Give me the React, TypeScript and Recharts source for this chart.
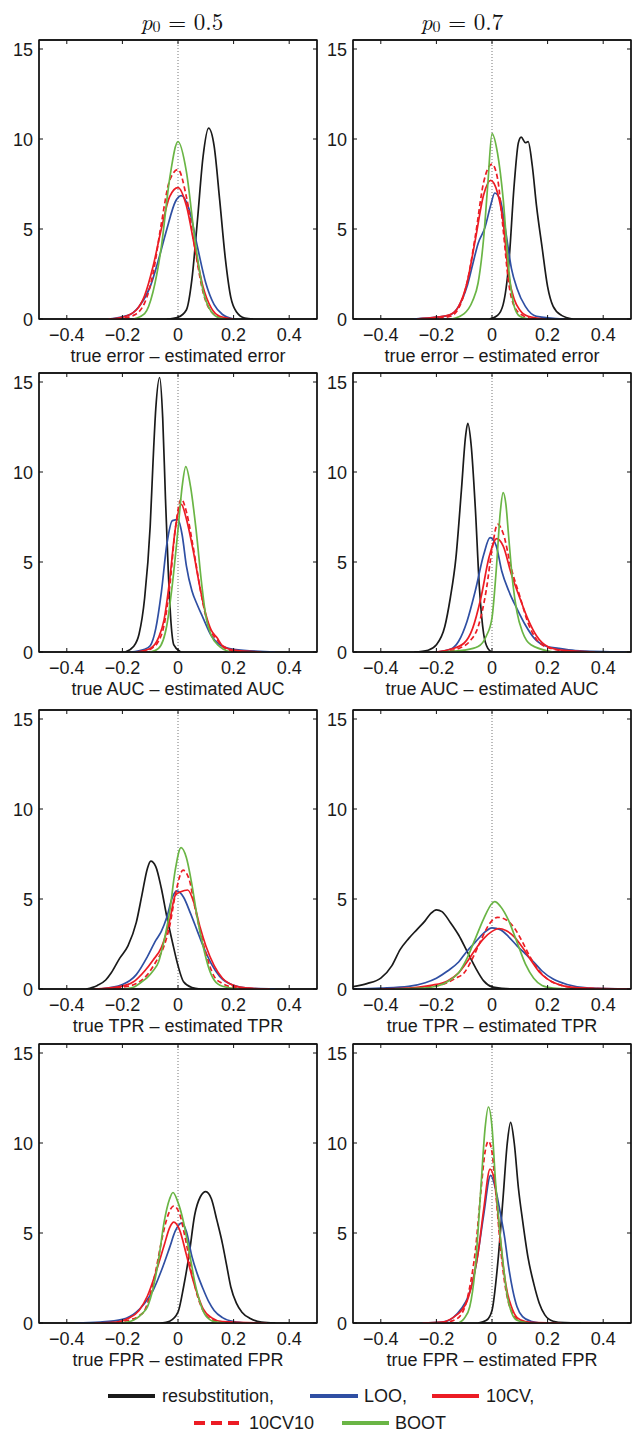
import React from 'react';
import { LineChart, Line, XAxis, YAxis, ReferenceLine, ReferenceArea } from 'recharts';

type Pt = [number, number];

// x tick values, y tick values
const xTicks = [-0.4, -0.2, 0, 0.2, 0.4];
const yTicks = [0, 5, 10, 15];
const columnTitles = ['0.5', '0.7'];
const rowLabels = [
  'true error \u2013 estimated error',
  'true AUC \u2013 estimated AUC',
  'true TPR \u2013 estimated TPR',
  'true FPR \u2013 estimated FPR',
];
const seriesNames = ['resubstitution,', 'LOO,', '10CV,', '10CV10', 'BOOT'];

// ---- error, p0 = 0.5
const resubErr5: Pt[] = [[-0.04,0],[0,0.1],[0.03,0.5],[0.05,2.2],[0.07,5.5],[0.09,9.0],[0.11,10.6],[0.13,9.6],[0.15,6.6],[0.17,3.4],[0.19,1.2],[0.21,0.4],[0.24,0.05],[0.27,0]];
const looErr5: Pt[] = [[-0.25,0],[-0.18,0.2],[-0.14,0.7],[-0.1,1.8],[-0.07,3.3],[-0.04,5.0],[-0.01,6.5],[0.012,6.85],[0.04,6.1],[0.07,4.0],[0.1,2.0],[0.13,0.8],[0.16,0.25],[0.2,0]];
const cvErr5: Pt[] = [[-0.25,0],[-0.2,0.1],[-0.15,0.5],[-0.12,1.3],[-0.09,2.9],[-0.06,5.0],[-0.03,6.8],[0,7.3],[0.03,6.3],[0.06,4.0],[0.09,1.8],[0.12,0.6],[0.15,0.15],[0.2,0]];
const cv10Err5: Pt[] = [[-0.22,0],[-0.16,0.2],[-0.12,0.9],[-0.09,2.5],[-0.06,5.3],[-0.03,7.7],[0,8.3],[0.03,6.8],[0.06,4.0],[0.09,1.5],[0.12,0.4],[0.16,0.05],[0.2,0]];
const bootErr5: Pt[] = [[-0.16,0],[-0.12,0.3],[-0.09,1.5],[-0.06,4.0],[-0.03,7.8],[0,9.85],[0.03,8.2],[0.06,4.5],[0.09,1.6],[0.12,0.4],[0.15,0.05],[0.17,0]];

// ---- error, p0 = 0.7
const resubErr7: Pt[] = [[-0.01,0],[0.02,0.2],[0.04,0.8],[0.06,3.0],[0.08,7.5],[0.095,9.8],[0.105,10.1],[0.12,9.8],[0.13,9.85],[0.145,8.5],[0.16,6.3],[0.18,4.0],[0.2,1.8],[0.22,0.7],[0.25,0.2],[0.29,0]];
const looErr7: Pt[] = [[-0.28,0],[-0.2,0.1],[-0.155,0.2],[-0.12,0.7],[-0.09,1.8],[-0.07,3.0],[-0.05,4.2],[-0.025,5.1],[-0.005,6.3],[0.01,7.0],[0.03,6.6],[0.05,4.8],[0.07,2.8],[0.09,1.7],[0.12,0.7],[0.16,0.15],[0.26,0]];
const cvErr7: Pt[] = [[-0.27,0],[-0.2,0.1],[-0.15,0.25],[-0.12,0.7],[-0.09,2.0],[-0.06,4.4],[-0.03,6.9],[-0.005,7.7],[0.02,7.0],[0.04,5.4],[0.06,2.4],[0.08,1.1],[0.1,0.5],[0.13,0.15],[0.19,0]];
const cv10Err7: Pt[] = [[-0.22,0],[-0.15,0.15],[-0.12,0.6],[-0.09,2.0],[-0.06,4.6],[-0.03,7.6],[0,8.6],[0.02,7.8],[0.04,5.0],[0.06,2.0],[0.08,0.7],[0.11,0.2],[0.15,0]];
const bootErr7: Pt[] = [[-0.145,0],[-0.1,0.3],[-0.07,1.0],[-0.05,2.0],[-0.03,4.5],[-0.015,7.5],[0,10.3],[0.02,9.2],[0.04,6.7],[0.06,2.8],[0.08,0.7],[0.1,0.15],[0.13,0]];

// ---- AUC, p0 = 0.5
const resubAuc5: Pt[] = [[-0.19,0],[-0.16,0.3],[-0.14,1.0],[-0.12,3.0],[-0.1,7.0],[-0.09,10.5],[-0.08,13.5],[-0.066,15.25],[-0.055,13.0],[-0.045,8.5],[-0.035,4.5],[-0.025,1.6],[-0.015,0.4],[0.01,0]];
const looAuc5: Pt[] = [[-0.17,0],[-0.12,0.15],[-0.1,0.35],[-0.08,1.3],[-0.06,3.3],[-0.04,6.0],[-0.02,7.3],[0,7.35],[0.015,6.5],[0.03,4.8],[0.05,3.4],[0.07,2.6],[0.09,1.9],[0.12,0.9],[0.15,0.4],[0.2,0.15],[0.35,0]];
const cvAuc5: Pt[] = [[-0.15,0],[-0.1,0.2],[-0.07,0.8],[-0.05,1.8],[-0.03,4.0],[-0.01,6.8],[0.012,8.2],[0.03,7.4],[0.055,5.6],[0.08,3.5],[0.1,2.1],[0.12,1.2],[0.14,0.8],[0.16,0.35],[0.2,0.1],[0.3,0]];
const cv10Auc5: Pt[] = [[-0.13,0],[-0.1,0.15],[-0.07,0.6],[-0.05,1.5],[-0.03,3.6],[-0.01,6.8],[0.012,8.5],[0.03,7.8],[0.055,5.8],[0.08,3.5],[0.1,2.0],[0.12,1.1],[0.14,0.7],[0.16,0.3],[0.2,0.05],[0.25,0]];
const bootAuc5: Pt[] = [[-0.1,0],[-0.07,0.2],[-0.04,1.5],[-0.02,3.8],[0,6.8],[0.015,9.2],[0.028,10.3],[0.045,9.2],[0.065,6.8],[0.085,3.8],[0.1,2.0],[0.12,0.9],[0.15,0.3],[0.19,0]];

// ---- AUC, p0 = 0.7
const resubAuc7: Pt[] = [[-0.28,0],[-0.23,0.1],[-0.2,0.4],[-0.17,1.4],[-0.15,3.0],[-0.13,5.2],[-0.11,9.0],[-0.095,12.0],[-0.087,12.7],[-0.075,11.5],[-0.06,8.0],[-0.045,3.5],[-0.03,1.0],[-0.015,0.2],[0,0]];
const looAuc7: Pt[] = [[-0.2,0],[-0.15,0.15],[-0.12,0.6],[-0.09,1.7],[-0.06,3.4],[-0.03,5.4],[-0.007,6.35],[0.015,5.9],[0.035,4.5],[0.06,3.4],[0.09,2.4],[0.12,1.5],[0.15,0.8],[0.19,0.35],[0.24,0.2],[0.3,0.08],[0.48,0]];
const cvAuc7: Pt[] = [[-0.2,0],[-0.15,0.15],[-0.1,0.5],[-0.07,1.3],[-0.04,3.0],[-0.01,5.3],[0.017,6.3],[0.04,5.9],[0.07,4.3],[0.1,3.0],[0.13,1.8],[0.16,0.9],[0.2,0.3],[0.25,0.1],[0.37,0]];
const cv10Auc7: Pt[] = [[-0.18,0],[-0.12,0.2],[-0.08,0.6],[-0.05,1.4],[-0.02,3.5],[0,5.7],[0.02,7.1],[0.04,6.6],[0.07,4.6],[0.1,3.1],[0.13,1.6],[0.16,0.7],[0.2,0.25],[0.3,0]];
const bootAuc7: Pt[] = [[-0.18,0],[-0.1,0.1],[-0.05,0.3],[-0.02,0.9],[0,1.9],[0.015,4.5],[0.03,7.8],[0.04,8.85],[0.05,8.2],[0.06,6.4],[0.075,3.8],[0.09,2.2],[0.11,1.1],[0.14,0.4],[0.22,0]];

// ---- TPR, p0 = 0.5
const resubTpr5: Pt[] = [[-0.33,0],[-0.29,0.2],[-0.26,0.5],[-0.24,0.9],[-0.21,1.7],[-0.18,2.4],[-0.15,3.7],[-0.13,5.2],[-0.11,6.7],[-0.098,7.1],[-0.08,6.8],[-0.06,5.6],[-0.04,4.0],[-0.02,2.6],[0,1.3],[0.02,0.4],[0.05,0.08],[0.08,0]];
const looTpr5: Pt[] = [[-0.28,0],[-0.2,0.25],[-0.15,0.8],[-0.11,1.8],[-0.08,2.7],[-0.06,3.2],[-0.04,4.0],[-0.02,5.1],[-0.005,5.45],[0.02,5.1],[0.045,4.2],[0.07,3.2],[0.09,2.4],[0.12,1.4],[0.15,0.7],[0.2,0.2],[0.25,0.05],[0.35,0]];
const cvTpr5: Pt[] = [[-0.3,0],[-0.22,0.1],[-0.16,0.4],[-0.12,1.0],[-0.09,1.6],[-0.06,2.3],[-0.03,3.8],[-0.01,5.2],[0.01,5.4],[0.035,5.5],[0.055,4.9],[0.08,3.4],[0.1,2.4],[0.13,1.3],[0.16,0.6],[0.2,0.2],[0.25,0.05],[0.33,0]];
const cv10Tpr5: Pt[] = [[-0.28,0],[-0.2,0.1],[-0.15,0.3],[-0.11,0.8],[-0.08,1.5],[-0.05,2.4],[-0.03,3.5],[-0.01,5.2],[0.018,6.6],[0.04,6.1],[0.06,4.6],[0.08,3.2],[0.1,2.0],[0.13,0.7],[0.16,0.3],[0.2,0.1],[0.3,0]];
const bootTpr5: Pt[] = [[-0.2,0],[-0.16,0.1],[-0.13,0.4],[-0.11,0.65],[-0.09,1.0],[-0.07,1.5],[-0.05,2.7],[-0.03,4.3],[-0.01,6.6],[0.011,7.85],[0.03,7.3],[0.05,5.8],[0.07,3.9],[0.09,2.4],[0.11,1.2],[0.13,0.5],[0.16,0.15],[0.22,0]];

// ---- TPR, p0 = 0.7
const resubTpr7: Pt[] = [[-0.5,0.13],[-0.45,0.3],[-0.4,0.6],[-0.36,1.3],[-0.33,2.2],[-0.3,2.8],[-0.27,3.3],[-0.24,3.8],[-0.22,4.2],[-0.2,4.4],[-0.18,4.3],[-0.15,3.7],[-0.12,3.0],[-0.09,2.1],[-0.06,1.2],[-0.03,0.45],[0,0.12],[0.05,0.02],[0.1,0]];
const looTpr7: Pt[] = [[-0.5,0],[-0.4,0.05],[-0.3,0.15],[-0.24,0.35],[-0.2,0.6],[-0.16,1.0],[-0.12,1.5],[-0.09,2.1],[-0.06,2.6],[-0.03,3.1],[0,3.4],[0.03,3.3],[0.06,2.9],[0.09,2.4],[0.12,1.95],[0.15,1.5],[0.18,1.0],[0.22,0.55],[0.27,0.25],[0.35,0.05],[0.5,0]];
const cvTpr7: Pt[] = [[-0.4,0],[-0.3,0.05],[-0.22,0.2],[-0.16,0.45],[-0.12,0.9],[-0.09,1.5],[-0.06,2.2],[-0.03,2.8],[0,3.2],[0.025,3.36],[0.05,3.25],[0.08,2.9],[0.11,2.3],[0.14,1.6],[0.17,0.95],[0.2,0.55],[0.25,0.2],[0.3,0.08],[0.4,0.02],[0.5,0]];
const cv10Tpr7: Pt[] = [[-0.35,0],[-0.25,0.08],[-0.18,0.25],[-0.13,0.6],[-0.1,0.9],[-0.07,1.7],[-0.04,2.7],[-0.01,3.6],[0.02,3.98],[0.05,3.85],[0.08,3.4],[0.11,2.6],[0.14,1.7],[0.17,1.0],[0.2,0.55],[0.25,0.2],[0.32,0.05],[0.45,0]];
const bootTpr7: Pt[] = [[-0.35,0],[-0.25,0.05],[-0.2,0.15],[-0.15,0.5],[-0.12,0.9],[-0.09,1.7],[-0.06,2.8],[-0.03,3.9],[0,4.75],[0.01,4.85],[0.03,4.6],[0.06,3.8],[0.09,2.6],[0.12,1.4],[0.15,0.6],[0.18,0.2],[0.22,0.05],[0.28,0]];

// ---- FPR, p0 = 0.5
const resubFpr5: Pt[] = [[-0.06,0],[-0.03,0.1],[0,0.6],[0.02,2.0],[0.04,3.8],[0.06,6.0],[0.08,7.0],[0.1,7.3],[0.12,6.9],[0.14,5.7],[0.16,4.4],[0.175,3.2],[0.19,2.0],[0.21,1.1],[0.23,0.6],[0.26,0.25],[0.3,0.05],[0.35,0]];
const looFpr5: Pt[] = [[-0.37,0],[-0.28,0.05],[-0.2,0.2],[-0.15,0.6],[-0.12,1.1],[-0.09,1.8],[-0.06,2.9],[-0.03,4.2],[-0.01,5.1],[0.012,5.55],[0.03,5.1],[0.05,3.7],[0.07,2.7],[0.09,1.9],[0.11,1.2],[0.13,0.7],[0.16,0.3],[0.2,0.08],[0.25,0]];
const cvFpr5: Pt[] = [[-0.3,0],[-0.22,0.05],[-0.18,0.25],[-0.14,0.7],[-0.11,1.5],[-0.08,2.8],[-0.05,4.3],[-0.03,5.3],[-0.015,5.6],[0.005,5.2],[0.03,3.8],[0.05,2.6],[0.07,1.6],[0.09,0.8],[0.12,0.3],[0.16,0.08],[0.32,0]];
const cv10Fpr5: Pt[] = [[-0.25,0],[-0.18,0.15],[-0.14,0.4],[-0.12,0.7],[-0.1,1.6],[-0.08,2.9],[-0.06,4.5],[-0.04,5.8],[-0.015,6.5],[0.005,6.1],[0.025,4.8],[0.05,2.8],[0.07,1.5],[0.09,0.7],[0.12,0.2],[0.16,0.05],[0.2,0]];
const bootFpr5: Pt[] = [[-0.21,0],[-0.17,0.1],[-0.13,0.5],[-0.11,0.9],[-0.09,1.9],[-0.07,3.5],[-0.05,5.6],[-0.03,6.9],[-0.018,7.25],[0,6.7],[0.02,5.6],[0.04,4.0],[0.06,2.3],[0.08,1.1],[0.1,0.4],[0.13,0.08],[0.17,0]];

// ---- FPR, p0 = 0.7
const resubFpr7: Pt[] = [[-0.05,0],[-0.02,0.15],[0,0.7],[0.02,3.2],[0.04,7.0],[0.055,10.0],[0.067,11.15],[0.08,10.0],[0.095,7.5],[0.11,5.7],[0.13,3.6],[0.15,2.2],[0.17,1.1],[0.19,0.45],[0.22,0.1],[0.26,0.02],[0.32,0]];
const looFpr7: Pt[] = [[-0.25,0],[-0.18,0.05],[-0.14,0.3],[-0.11,0.8],[-0.085,1.5],[-0.065,2.6],[-0.05,3.9],[-0.03,6.0],[-0.005,8.2],[0.015,7.3],[0.03,6.1],[0.045,4.8],[0.06,3.1],[0.075,1.8],[0.09,0.9],[0.11,0.35],[0.14,0.1],[0.18,0]];
const cvFpr7: Pt[] = [[-0.25,0],[-0.18,0.05],[-0.14,0.3],[-0.11,0.7],[-0.09,1.2],[-0.07,2.3],[-0.05,3.9],[-0.03,6.3],[-0.007,8.55],[0.01,7.8],[0.025,5.5],[0.04,3.2],[0.055,1.7],[0.07,0.9],[0.09,0.3],[0.12,0.08],[0.16,0.02],[0.25,0]];
const cv10Fpr7: Pt[] = [[-0.18,0],[-0.13,0.2],[-0.1,0.8],[-0.08,2.0],[-0.06,4.0],[-0.04,7.3],[-0.025,9.5],[-0.013,10.1],[0,9.5],[0.015,7.0],[0.03,4.3],[0.045,2.3],[0.06,1.1],[0.08,0.4],[0.1,0.1],[0.14,0]];
const bootFpr7: Pt[] = [[-0.12,0],[-0.1,0.25],[-0.08,0.9],[-0.06,3.1],[-0.04,7.5],[-0.025,10.8],[-0.013,12.0],[0,10.9],[0.012,8.0],[0.025,5.6],[0.04,3.3],[0.055,1.5],[0.07,0.6],[0.09,0.15],[0.13,0]];

const COLORS = ['#1a1a1a', '#2f4fa3', '#ec1c24', '#ec1c24', '#6ab545'];
const DASH = [undefined, undefined, undefined, '5 3', undefined];

const panelSeries: Pt[][][] = [
  [resubErr5, looErr5, cvErr5, cv10Err5, bootErr5],
  [resubErr7, looErr7, cvErr7, cv10Err7, bootErr7],
  [resubAuc5, looAuc5, cvAuc5, cv10Auc5, bootAuc5],
  [resubAuc7, looAuc7, cvAuc7, cv10Auc7, bootAuc7],
  [resubTpr5, looTpr5, cvTpr5, cv10Tpr5, bootTpr5],
  [resubTpr7, looTpr7, cvTpr7, cv10Tpr7, bootTpr7],
  [resubFpr5, looFpr5, cvFpr5, cv10Fpr5, bootFpr5],
  [resubFpr7, looFpr7, cvFpr7, cv10Fpr7, bootFpr7],
];

const FONT = '"Liberation Sans", Arial, Helvetica, sans-serif';
const ROW_TOPS = [40, 373, 710, 1044];
const COL_LEFTS = [39, 353];
const PW = 278;
const PH = 279;
const PAD_L = 40;
const PAD_T = 6;
const PAD_R = 6;
const PAD_B = 50;

const fmtX = (v: number) => (v === 0 ? '0' : (v < 0 ? '\u2212' : '') + Math.abs(v).toFixed(1));

const BottomTick = (p: any) => (
  <g>
    <line x1={p.x} y1={p.y} x2={p.x} y2={p.y - 4} stroke="#111" strokeWidth={1} />
    <text x={p.x} y={p.y + 16} textAnchor="middle" dominantBaseline="central" fontFamily={FONT} fontSize={18} fill="#1a1a1a">
      {fmtX(p.payload.value)}
    </text>
  </g>
);
const TopTick = (p: any) => (
  <line x1={p.x} y1={p.y} x2={p.x} y2={p.y + 4} stroke="#111" strokeWidth={1} />
);
const LeftTick = (p: any) => (
  <g>
    <line x1={p.x} y1={p.y} x2={p.x + 4} y2={p.y} stroke="#111" strokeWidth={1} />
    <text x={p.x - 6} y={p.y + 1} textAnchor="end" dominantBaseline="central" fontFamily={FONT} fontSize={18} fill="#1a1a1a">
      {String(p.payload.value)}
    </text>
  </g>
);
const RightTick = (p: any) => (
  <line x1={p.x} y1={p.y} x2={p.x - 4} y2={p.y} stroke="#111" strokeWidth={1} />
);

const toRows = (a: Pt[]) => a.map(([x, y]) => ({ x, y }));

function Panel({ idx }: { idx: number }) {
  const row = Math.floor(idx / 2);
  const col = idx % 2;
  const left = COL_LEFTS[col] - PAD_L;
  const top = ROW_TOPS[row] - PAD_T;
  const series = panelSeries[idx];
  const axisStyle = { stroke: '#111', strokeWidth: 1.3 };
  return (
    <div style={{ position: 'absolute', left, top }}>
      <LineChart
        width={PAD_L + PW + PAD_R}
        height={PAD_T + PH + PAD_B}
        margin={{ top: PAD_T - 1, right: PAD_R - 1, bottom: 0, left: 0 }}
        style={{ overflow: 'visible' }}
      >
        <XAxis xAxisId="b" type="number" dataKey="x" domain={[-0.5, 0.5]} ticks={xTicks} allowDataOverflow
          height={PAD_B} tickLine={false} tickSize={0} tickMargin={0} axisLine={axisStyle} tick={<BottomTick />} interval={0} />
        <XAxis xAxisId="t" orientation="top" type="number" dataKey="x" domain={[-0.5, 0.5]} ticks={xTicks} allowDataOverflow
          height={1} tickLine={false} tickSize={0} tickMargin={0} axisLine={axisStyle} tick={<TopTick />} interval={0} />
        <YAxis yAxisId="l" type="number" domain={[0, 15.5]} ticks={yTicks} allowDataOverflow
          width={PAD_L} tickLine={false} tickSize={0} tickMargin={0} axisLine={axisStyle} tick={<LeftTick />} interval={0} />
        <YAxis yAxisId="r" orientation="right" type="number" domain={[0, 15.5]} ticks={yTicks} allowDataOverflow
          width={1} tickLine={false} tickSize={0} tickMargin={0} axisLine={axisStyle} tick={<RightTick />} interval={0} />
        <ReferenceArea xAxisId="b" yAxisId="l" x1={-0.5} x2={0.5} y1={0} y2={15.5}
          fill="none" fillOpacity={0} stroke="#111" strokeWidth={1.3} ifOverflow="visible" />
        <ReferenceLine xAxisId="b" yAxisId="l" x={0} stroke="#777" strokeWidth={1} strokeDasharray="1 2" />
        {series.map((s, i) => (
          <Line
            key={seriesNames[i]}
            name={seriesNames[i]}
            xAxisId="b"
            yAxisId="l"
            data={toRows(s)}
            dataKey="y"
            type="monotone"
            stroke={COLORS[i]}
            strokeWidth={1.7}
            strokeDasharray={DASH[i]}
            dot={false}
            activeDot={false}
            isAnimationActive={false}
          />
        ))}
      </LineChart>
    </div>
  );
}

function Overlay() {
  const titleCenters = [182, 462];
  return (
    <svg width={632} height={1434} style={{ position: 'absolute', left: 0, top: 0, pointerEvents: 'none' }}>
      {columnTitles.map((t, i) => (
        <text key={t} x={titleCenters[i]} y={20} textAnchor="middle" dominantBaseline="central"
          fontFamily='"Latin Modern Roman", "Liberation Serif", "DejaVu Serif", serif' fontSize={23} fill="#111">
          <tspan fontStyle="italic">p</tspan>
          <tspan fontSize={16} dy={5}>0</tspan>
          <tspan dy={-5}>{' = ' + t}</tspan>
        </text>
      ))}
      {ROW_TOPS.map((rt, r) =>
        COL_LEFTS.map((cl) => (
          <text key={r + '-' + cl} x={cl + PW / 2} y={rt + PH + 37} textAnchor="middle" dominantBaseline="central"
            fontFamily={FONT} fontSize={18} fill="#1a1a1a">
            {rowLabels[r]}
          </text>
        ))
      )}
      {/* legend */}
      <g fontFamily={FONT} fontSize={18} fill="#1a1a1a">
        <line x1={108} y1={1396} x2={155} y2={1396} stroke={COLORS[0]} strokeWidth={4} />
        <text x={162} y={1396} dominantBaseline="central">{seriesNames[0]}</text>
        <line x1={310} y1={1396} x2={358} y2={1396} stroke={COLORS[1]} strokeWidth={4} />
        <text x={364} y={1396} dominantBaseline="central">{seriesNames[1]}</text>
        <line x1={432} y1={1396} x2={479} y2={1396} stroke={COLORS[2]} strokeWidth={4} />
        <text x={486} y={1396} dominantBaseline="central">{seriesNames[2]}</text>
        <line x1={194} y1={1423} x2={240} y2={1423} stroke={COLORS[3]} strokeWidth={4} strokeDasharray="11 6" />
        <text x={249} y={1423} dominantBaseline="central">{seriesNames[3]}</text>
        <line x1={342} y1={1423} x2={389} y2={1423} stroke={COLORS[4]} strokeWidth={4} />
        <text x={395} y={1423} dominantBaseline="central">{seriesNames[4]}</text>
      </g>
    </svg>
  );
}

export default function App() {
  return (
    <div style={{ position: 'absolute', left: 0, top: 0, width: 632, height: 1434, background: '#fff', overflow: 'hidden' }}>
      {panelSeries.map((_, i) => (
        <Panel key={i} idx={i} />
      ))}
      <Overlay />
    </div>
  );
}
